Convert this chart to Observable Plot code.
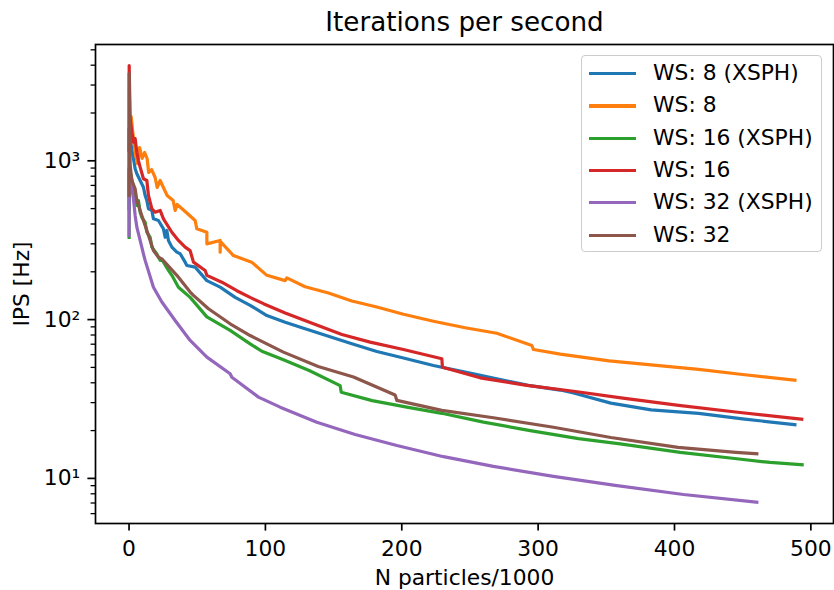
<!DOCTYPE html>
<html><head><meta charset="utf-8">
<script src="https://cdn.jsdelivr.net/npm/d3@7"></script>
<script src="https://cdn.jsdelivr.net/npm/@observablehq/plot@0.6"></script>
<style>
body{margin:0;background:#fff;}
#wrap{position:relative;width:834px;height:590px;font-family:"DejaVu Sans",sans-serif;}
#legend{position:absolute;left:581px;top:55px;width:241px;height:197px;border:1.4px solid #cccccc;border-radius:4px;background:rgba(255,255,255,0.8);box-sizing:border-box;}
.row{position:absolute;left:0;width:236px;height:32px;line-height:32px;font-size:21.8px;white-space:nowrap;color:#000;}
.sw{position:absolute;left:7px;top:15px;width:47px;height:3.3px;}
.lab{position:absolute;left:71px;top:0;}
</style></head>
<body><div id="wrap"></div>
<script>
// ---- data (N particles / 1000, iterations per second) ----
const names = ["WS: 8 (XSPH)", "WS: 8", "WS: 16 (XSPH)", "WS: 16", "WS: 32 (XSPH)", "WS: 32"];
const colors = ["#1f77b4", "#ff7f0e", "#2ca02c", "#d62728", "#9467bd", "#8c564b"];

const ws8xsph_n = [0.05,0.1,1.54,3.23,4.47,5.72,10.56,11.8,13.05,14.23,16.72,17.89,21.56,25.23,26.47,27.72,28.89,31.39,35.06,37.47,41.14,42.39,48.47,57.06,66.81,77.81,88.8,101.06,114.48,129.14,163.39,181.72,201.23,223.23,246.49,269.7,292.9,316.2,326.0,353.3,382.9,417.7,449.9,488.3];
const ws8xsph_ips = [500,1600,1247,1034,890,828,682,605,562,499,487,431,421,373,330,364,315,286,266,260,230,219,214,176,160,138,123,106,96.3,87.5,70.4,63.0,57.3,51.4,46.7,42.4,38.5,36.0,34.5,29.8,27.0,25.7,23.7,21.8];

const ws8_n = [0.1,1.54,3.01,4.84,6.31,7.77,9.61,11.44,13.27,14.37,16.57,19.14,20.61,22.81,27.94,32.34,33.81,35.28,41.14,48.47,49.72,57.06,57.06,66.81,66.81,67.03,76.56,89.91,101.06,114.48,115.72,129.14,146.23,163.39,181.72,201.23,223.23,246.49,269.7,295.4,296.6,316.2,352.1,382.9,417.7,449.9,488.3];
const ws8_ips = [1200,1901,1443,1080,961,1213,1034,1128,1034,844,881,785,679,752,605,562,487,531,480,421,373,355,300,315,266,310,253,230,190,176,183,161,147,131,120,108,97.7,88.8,82.1,68.7,64.8,60.6,54.9,51.8,48.6,45.1,41.5];

const ws16xsph_n = [0.05,0.1,1.5,3.0,4.47,5.72,6.89,8.14,9.39,11.8,13.05,15.47,16.72,20.39,22.81,24.5,28.89,31.39,36.23,44.81,57.06,74.14,88.8,97.39,113.2,132.1,154.8,155.6,178.3,203.7,229.4,259.9,294.2,329.6,360.2,404.2,445.7,470.2,493.6];
const ws16xsph_ips = [329,900,800,699,605,523,562,475,441,410,355,330,286,259,236,236,204,190,160,138,104,85.5,70.4,63.2,55.8,47.8,38.4,34.9,30.9,28.1,25.7,22.6,20.0,17.8,16.5,14.6,13.3,12.6,12.2];

const ws16_n = [0.05,0.1,0.81,2.05,3.23,4.47,5.72,6.89,8.14,10.56,13.05,14.23,16.72,19.14,22.81,25.23,31.39,36.23,41.14,44.8,47.23,55.8,57.06,68.05,79.05,88.8,98.56,114.5,135.2,156.1,176.8,201.2,229.4,229.8,257.5,291.7,326.0,362.1,403.1,446.4,493.3];
const ws16_ips = [1161,3981,1839,1514,1309,1381,1133,1004,912,771,752,605,499,475,487,431,355,315,286,272,230,204,190,172,152,138,126,110,94.1,80.5,72.1,64.8,56.7,50.1,43.0,38.5,35.4,32.0,28.8,26.1,23.6];

const ws32xsph_n = [0.05,0.1,3.23,4.47,5.72,8.14,10.56,11.8,17.89,24.05,33.81,44.81,57.06,74.14,75.39,94.9,110.8,137.7,165.8,196.4,230.6,267.2,311.2,356.5,406.6,460.4];
const ws32xsph_ips = [339,867,576,453,382,315,259,236,160,129,98.7,73.9,58.0,45.6,43.4,32.5,28.1,22.6,18.9,16.1,13.7,11.9,10.3,9.03,7.92,7.08];

const ws32_n = [0.05,0.1,0.81,2.05,4.47,5.72,8.14,10.56,13.05,15.47,17.89,21.56,24.05,35.06,44.81,47.23,58.23,74.14,88.8,113.2,138.7,164.6,195.1,196.4,229.4,267.2,311.2,353.3,402.6,445.0,460.4];
const ws32_ips = [605,3545,934,752,666,562,487,421,364,315,272,247,241,190,149,142,117,94.1,79.4,62.4,50.7,43.5,33.5,31.0,26.8,24.1,21.0,18.1,15.7,14.6,14.3];

const xTicks = [0, 100, 200, 300, 400, 500];
const yMajor = [10, 100, 1000];
const yMajorLabels = ["10\u00B9", "10\u00B2", "10\u00B3"];
const yMinor = [6,7,8,9,20,30,40,50,60,70,80,90,200,300,400,500,600,700,800,900,2000,3000,4000,5000];

const title = "Iterations per second";
const xLabel = "N particles/1000";
const yLabel = "IPS [Hz]";

// ---- build table ----
const seriesN = [ws8xsph_n, ws8_n, ws16xsph_n, ws16_n, ws32xsph_n, ws32_n];
const seriesY = [ws8xsph_ips, ws8_ips, ws16xsph_ips, ws16_ips, ws32xsph_ips, ws32_ips];
const table = [];
seriesN.forEach((ns, i) => ns.forEach((n, j) => table.push({series: names[i], n, ips: seriesY[i][j]})));

const chart = Plot.plot({
  width: 834, height: 590,
  marginLeft: 95, marginRight: 1, marginTop: 44, marginBottom: 67,
  x: {domain: [-24.6, 516.6]},
  y: {type: "log", domain: [5.2, 5400]},
  color: {domain: names, range: colors},
  style: {fontFamily: "DejaVu Sans", fontSize: "21.8px", color: "#000", background: "#fff", overflow: "visible"},
  marks: [
    Plot.line(table, {x: "n", y: "ips", z: "series", stroke: "series", strokeWidth: 3.2, strokeLinejoin: "round", strokeLinecap: "square"}),
    Plot.frame({stroke: "#000", strokeWidth: 1.7}),
    Plot.axisX(xTicks, {tickSize: 7.6, tickPadding: 9, fontSize: 21.8, strokeWidth: 1.7, label: null}),
    Plot.axisY(yMajor, {tickSize: 7.6, tickPadding: 7.6, fontSize: 21.8, strokeWidth: 1.7, label: null,
      tickFormat: d => yMajorLabels[yMajor.indexOf(d)]}),
    Plot.axisY(yMinor, {tickSize: 4.4, strokeWidth: 1.3, fill: "none", label: null}),
    Plot.text([title], {frameAnchor: "top", dy: -22, fontSize: 26.2, textAnchor: "middle", lineAnchor: "middle"}),
    Plot.text([xLabel], {frameAnchor: "bottom", dy: 55, fontSize: 21.8, textAnchor: "middle", lineAnchor: "middle"}),
    Plot.text([yLabel], {frameAnchor: "left", dx: -73, rotate: -90, fontSize: 21.8, textAnchor: "middle", lineAnchor: "middle"})
  ]
});
const wrap = document.getElementById("wrap");
wrap.appendChild(chart);

// ---- legend ----
const legend = document.createElement("div");
legend.id = "legend";
names.forEach((nm, i) => {
  const row = document.createElement("div");
  row.className = "row";
  row.style.top = (1.0 + 32.3 * i) + "px";
  const sw = document.createElement("div");
  sw.className = "sw";
  sw.style.background = colors[i];
  const lab = document.createElement("span");
  lab.className = "lab";
  lab.textContent = nm;
  row.appendChild(sw); row.appendChild(lab);
  legend.appendChild(row);
});
wrap.appendChild(legend);
</script></body></html>
